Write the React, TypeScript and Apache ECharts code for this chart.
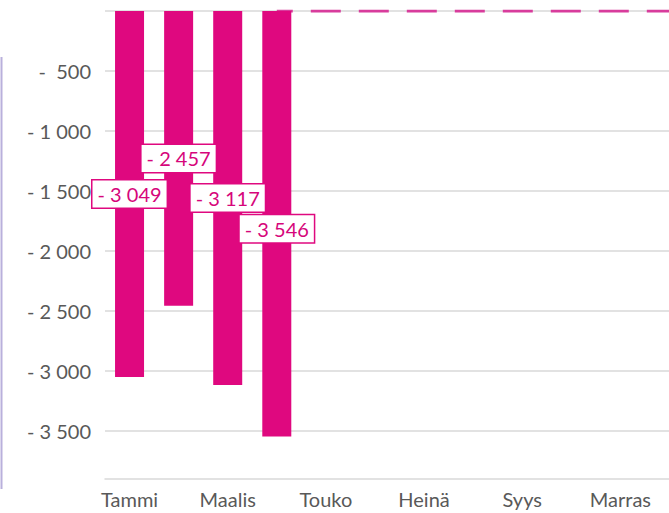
import React, { useEffect, useRef } from "react";
import * as echarts from "echarts";

const months = ["Tammi", "Helmi", "Maalis", "Huhti", "Touko", "Kesä", "Heinä", "Elo", "Syys", "Loka", "Marras", "Joulu"];
const actual = [-3049, -2457, -3117, -3546, null, null, null, null, null, null, null, null];
const forecast = [null, null, null, 0, 0, 0, 0, 0, 0, 0, 0, 0];
const yMin = -3900;
const yMax = 0;
const yTicks = [-3500, -3000, -2500, -2000, -1500, -1000, -500, 0];

const PINK = "#DF087F";
const FONT = "Lato";

function fmt(v: number): string {
  const a = Math.abs(v);
  const s = String(a).replace(/\B(?=(\d{3})+(?!\d))/g, "\u00a0");
  const pad = a < 1000 ? "\u00a0" : "";
  return (v < 0 ? "-\u00a0" : "") + pad + s;
}

export default function App() {
  const ref = useRef<HTMLDivElement>(null);
  useEffect(() => {
    if (!ref.current) return;
    const chart = echarts.init(ref.current, undefined, { renderer: "svg" });
    chart.setOption({
      animation: false,
      backgroundColor: "#ffffff",
      textStyle: { fontFamily: FONT },
      grid: { left: 105, top: 11, width: 589, height: 468, containLabel: false, outerBoundsMode: "none" },
      xAxis: {
        type: "category",
        data: months,
        axisLine: { show: true, onZero: false, lineStyle: { color: "#D9D9D9", width: 1.5 } },
        axisTick: { show: false },
        axisLabel: { interval: 1, color: "#595959", fontSize: 20, fontFamily: FONT, margin: 10 },
        splitLine: { show: false },
      },
      yAxis: {
        type: "value",
        min: yMin,
        max: yMax,
        axisLine: { show: false },
        axisTick: { show: false, customValues: yTicks },
        axisLabel: {
          customValues: yTicks,
          color: "#595959",
          fontSize: 20,
          fontFamily: FONT,
          margin: 14,
          formatter: (v: number) => (v === 0 ? "" : fmt(v)),
        },
        splitLine: { show: true, lineStyle: { color: "#D9D9D9", width: 1.5 } },
      },
      graphic: [
        {
          type: "line",
          shape: { x1: 1.5, y1: 57, x2: 1.5, y2: 489 },
          style: { stroke: "#B9B0DC", lineWidth: 2 },
        },
      ],
      series: [
        {
          type: "line",
          data: forecast,
          symbol: "none",
          z: 1,
          lineStyle: { color: "#D83C9C", width: 3, type: [30, 18], dashOffset: 13.5 },
        },
        {
          type: "bar",
          data: actual.map((v, i) =>
            i === 3 ? { value: v, label: { offset: [0, 5] } } : v
          ),
          barWidth: 29,
          z: 2,
          itemStyle: { color: PINK },
          label: {
            show: true,
            position: "inside",
            formatter: (p: any) => fmt(p.value),
            color: "#D6067B",
            fontSize: 20,
            fontFamily: FONT,
            backgroundColor: "#ffffff",
            borderColor: PINK,
            borderWidth: 1.5,
            padding: [4, 5, 3, 5],
          },
        },
      ],
    });
    return () => chart.dispose();
  }, []);
  return <div ref={ref} style={{ position: "fixed", left: 0, top: 0, width: 669, height: 513 }} />;
}
